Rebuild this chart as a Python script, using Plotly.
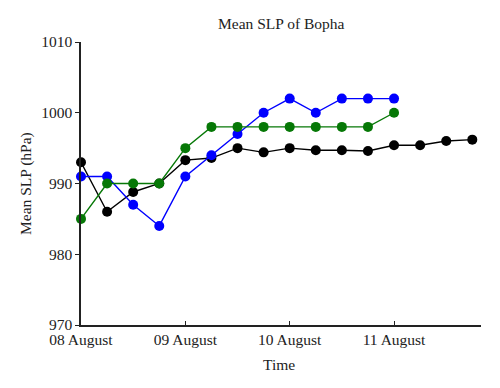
import plotly.graph_objects as go

hours_black = [0, 6, 12, 18, 24, 30, 36, 42, 48, 54, 60, 66, 72, 78, 84, 90]
slp_black = [993.0, 986.0, 988.8, 990.0, 993.3, 993.6, 995.0, 994.4, 995.0, 994.7, 994.7, 994.6, 995.4, 995.4, 996.0, 996.2]

hours_blue = [0, 6, 12, 18, 24, 30, 36, 42, 48, 54, 60, 66, 72]
slp_blue = [991, 991, 987, 984, 991, 994, 997, 1000, 1002, 1000, 1002, 1002, 1002]

hours_green = [0, 6, 12, 18, 24, 30, 36, 42, 48, 54, 60, 66, 72]
slp_green = [985, 990, 990, 990, 995, 998, 998, 998, 998, 998, 998, 998, 1000]

tick_hours = [0, 24, 48, 72]
tick_labels = ["08 August", "09 August", "10 August", "11 August"]
y_ticks = [970, 980, 990, 1000, 1010]

font_family = "Liberation Serif, Times New Roman, serif"
txt = "#222222"
fs = 15.5

# page has an 8px body margin; figure coordinates = page coordinates - 8
OFF = 8
L, T, R, B = 81 - OFF, 42 - OFF, 19, 63
W, H = 500 - OFF, 388 - OFF
PW, PH = W - L - R, H - T - B

fig = go.Figure()
for xs, ys, col in [(hours_black, slp_black, "#000000"),
                    (hours_blue, slp_blue, "#0000FF"),
                    (hours_green, slp_green, "#067806")]:
    fig.add_trace(go.Scatter(
        x=xs, y=ys, mode="lines+markers",
        line=dict(color=col, width=1.4),
        marker=dict(color=col, size=10),
        cliponaxis=False, showlegend=False,
    ))

fig.update_layout(
    width=W, height=H,
    margin=dict(l=L, r=R, t=T, b=B),
    paper_bgcolor="white", plot_bgcolor="white",
    font=dict(family=font_family, size=fs, color=txt),
)
fig.update_xaxes(
    range=[0, 92], tickvals=tick_hours, ticktext=tick_labels,
    showline=True, linecolor=txt, linewidth=1.5,
    ticks="inside", ticklen=4, tickcolor=txt, tickwidth=1,
    tickfont=dict(family=font_family, size=fs, color=txt),
    ticklabelstandoff=0,
    showgrid=False, zeroline=False, automargin=False,
)
fig.update_yaxes(
    range=[970, 1010], tickvals=y_ticks,
    showline=True, linecolor=txt, linewidth=1.5,
    ticks="outside", ticklen=4, tickcolor=txt, tickwidth=1,
    tickfont=dict(family=font_family, size=fs, color=txt),
    showgrid=False, zeroline=False, automargin=False,
)

def px_x(page_x):
    return (page_x - OFF - L) / PW

def px_y(page_y):
    return (H - B - (page_y - OFF)) / PH

fig.add_annotation(text="Mean SLP of Bopha", xref="paper", yref="paper",
                   x=px_x(281), y=px_y(24), yanchor="middle",
                   showarrow=False, font=dict(family=font_family, size=fs, color=txt))
fig.add_annotation(text="Time", xref="paper", yref="paper",
                   x=px_x(279), y=px_y(364), yanchor="middle",
                   showarrow=False, font=dict(family=font_family, size=fs, color=txt))
fig.add_annotation(text="Mean SLP (hPa)", xref="paper", yref="paper",
                   x=px_x(26), y=px_y(183), xanchor="center",
                   yanchor="middle", textangle=-90,
                   showarrow=False, font=dict(family=font_family, size=fs, color=txt))

fig.write_html("out.html")
